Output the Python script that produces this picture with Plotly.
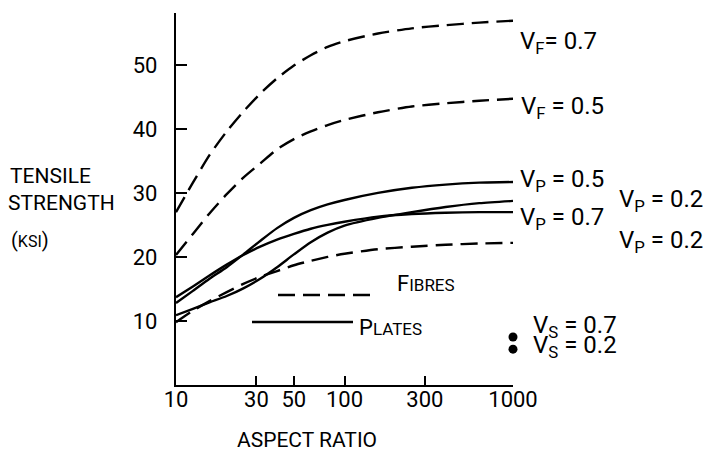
import plotly.graph_objects as go

# ---- data (at regular aspect-ratio steps) ----
aspect_ratio = [10, 12.6, 15.8, 20, 25.1, 31.6, 39.8, 50.1, 63.1, 79.4, 100, 158, 251, 398, 631, 1000]

ts_fibres_07 = [27.0, 31.6, 35.9, 39.6, 42.7, 45.5, 47.9, 49.9, 51.5, 52.8, 53.7, 54.9, 55.7, 56.2, 56.6, 56.9]
ts_fibres_05 = [20.3, 23.6, 26.8, 29.8, 32.4, 34.6, 36.8, 38.4, 39.6, 40.6, 41.4, 42.6, 43.5, 44.0, 44.4, 44.7]
ts_fibres_02 = [9.8, 11.6, 13.1, 14.5, 15.8, 16.9, 17.8, 18.7, 19.4, 20.0, 20.5, 21.2, 21.6, 21.9, 22.1, 22.2]

ts_plates_05 = [12.8, 14.7, 16.6, 18.4, 20.4, 22.5, 24.5, 26.1, 27.3, 28.2, 28.9, 30.0, 30.8, 31.3, 31.6, 31.7]
ts_plates_07 = [13.7, 15.4, 17.1, 18.8, 20.3, 21.6, 22.7, 23.6, 24.4, 25.0, 25.5, 26.3, 26.7, 26.9, 27.0, 27.0]
ts_plates_02 = [10.9, 11.9, 12.9, 13.9, 15.1, 16.6, 18.4, 20.4, 22.3, 23.8, 24.9, 26.1, 27.0, 27.8, 28.4, 28.75]

aspect_spheres = [1000, 1000]
ts_spheres = [7.5, 5.6]

x_tickvals = [10, 30, 50, 100, 300, 1000]
x_ticktext = ["10", "30", "50", "100", "300", "1000"]
y_tickvals = [10, 20, 30, 40, 50]
y_ticktext = ["10", "20", "30", "40", "50"]

FONT = "Roboto, Liberation Sans, sans-serif"
DASH = "17px,8px"
LW = 2.4

fig = go.Figure()

def curve(xs, ys, dash):
    fig.add_trace(go.Scatter(
        x=xs, y=ys, mode="lines",
        line=dict(color="black", width=LW, dash=dash, shape="spline", smoothing=0.7),
        showlegend=False, hoverinfo="skip", cliponaxis=False))

curve(aspect_ratio, ts_fibres_07, DASH)
curve(aspect_ratio, ts_fibres_05, DASH)
curve(aspect_ratio, ts_fibres_02, DASH)
curve(aspect_ratio, ts_plates_05, "solid")
curve(aspect_ratio, ts_plates_07, "solid")
curve(aspect_ratio, ts_plates_02, "solid")

fig.add_trace(go.Scatter(
    x=aspect_spheres, y=ts_spheres, mode="markers",
    marker=dict(color="black", size=9),
    showlegend=False, hoverinfo="skip", cliponaxis=False))

# page pixel -> paper helpers (page has an 8px body margin)
OFF = 8
L, R, T, B = 176, 513, 13, 385   # plot area in page pixels
def px(x):
    return (x - L) / (R - L)
def py(y):
    return (B - y) / (B - T)

annots = []
def label(text, x, y, size=24, xanchor="left"):
    annots.append(dict(text=text, x=px(x), y=py(y), xref="paper", yref="paper",
                       xanchor=xanchor, yanchor="middle", align="left", showarrow=False,
                       font=dict(family=FONT, size=size, color="black")))

label("V<sub>F</sub>= 0.7", 518, 42)
label("V<sub>F</sub> = 0.5", 519, 107)
label("V<sub>P</sub> = 0.5", 518, 180)
label("V<sub>P</sub> = 0.7", 518, 219)
label("V<sub>P</sub> = 0.2", 617, 200)
label("V<sub>P</sub> = 0.2", 617, 241)
label("V<sub>S</sub> = 0.7", 531, 326)
label("V<sub>S</sub> = 0.2", 531, 346)

label('F<span style="font-size:17px">IBRES</span>', 395, 283, size=22)
label('P<span style="font-size:17px">LATES</span>', 357, 327, size=22)

label("TENSILE", 8, 176, size=21)
label("STRENGTH", 6, 203, size=21)
label('(<span style="font-size:16px">KSI</span>)', 9, 240, size=20)
label("ASPECT RATIO", 307, 440, size=21, xanchor="center")

shapes = [
    dict(type="line", xref="paper", yref="paper", x0=px(278), x1=px(375), y0=py(295), y1=py(295),
         line=dict(color="black", width=LW, dash=DASH)),
    dict(type="line", xref="paper", yref="paper", x0=px(252), x1=px(353), y0=py(322), y1=py(322),
         line=dict(color="black", width=LW)),
]

fig.update_layout(
    width=720, height=451,
    margin=dict(l=L - OFF, r=720 - (R - OFF), t=T - OFF, b=451 - (B - OFF), pad=0),
    paper_bgcolor="white", plot_bgcolor="white",
    font=dict(family=FONT, size=22, color="black"),
    annotations=annots, shapes=shapes,
    xaxis=dict(type="log", range=[1, 3], showgrid=False, zeroline=False,
               showline=True, linecolor="black", linewidth=LW,
               ticks="inside", ticklen=9, tickwidth=LW, tickcolor="black",
               tickvals=x_tickvals, ticktext=x_ticktext,
               tickfont=dict(family=FONT, size=22), ticklabelstandoff=-7),
    yaxis=dict(range=[0, 58.1], showgrid=False, zeroline=False,
               showline=True, linecolor="black", linewidth=LW,
               ticks="inside", ticklen=11, tickwidth=LW, tickcolor="black",
               tickvals=y_tickvals, ticktext=y_ticktext,
               tickfont=dict(family=FONT, size=22), ticklabelstandoff=12),
)

fig.write_html("out.html")
